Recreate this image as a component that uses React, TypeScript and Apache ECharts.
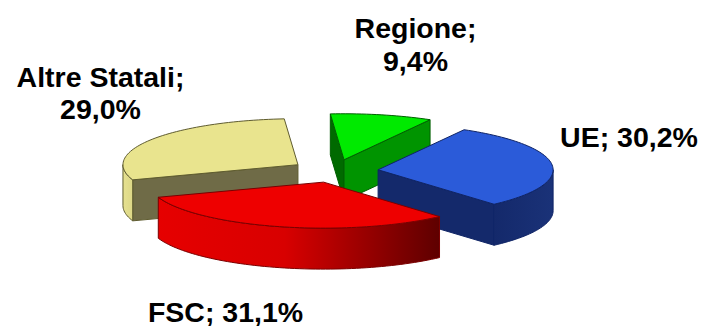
import React, { useEffect, useRef } from "react";
import * as echarts from "echarts";

const categories = ["Regione", "UE", "FSC", "Altre Statali"];
const shares = [9.4, 30.2, 31.1, 29.0];
const labelLines = [["Regione;", "9,4%"], ["UE; 30,2%"], ["FSC; 31,1%"], ["Altre Statali;", "29,0%"]];
const paintOrder = [3, 0, 1, 2];

const labelAnchors = [[415.5, 44.5], [629, 137], [225.5, 311.5], [100.5, 93]];
const topColors = ["#00ea00", "#2b5bd9", "#ee0000", "#e9e48e"];
const edgeColors = ["#005f00", "#0f2466", "#7a0000", "#5f5c30"];
const startWallColors = ["#006a00", "#14296b", "#7a0000", "#6f6b47"];
const endWallColors = ["#009400", "#14296b", "#7a0000", "#6f6b47"];
const outerWallStops = [
  [[0, "#008800"], [1, "#006600"]],
  [[0, "#14296b"], [1, "#1a3278"]],
  [[0, "#e60000"], [0.45, "#d80000"], [1, "#5e0000"]],
  [[0, "#e6e190"], [1, "#dcd787"]],
];

const CX = 334.6;
const CY = 171;
const RX = 175;
const RY = 46;
const DEPTH = 41;
const EXPLODE = 0.25;
const START_DEG = -94.5;

const total = shares.reduce((a, b) => a + b, 0);
const toAngle = (share: number) => (share / total) * Math.PI * 2;
const angleBefore = (index: number) =>
  (START_DEG * Math.PI) / 180 + shares.slice(0, index).reduce((a, b) => a + toAngle(b), 0);

function arcPoints(c: number[], a0: number, a1: number, dy = 0) {
  const n = Math.max(2, Math.ceil(Math.abs(a1 - a0) / 0.03));
  const pts: number[][] = [];
  for (let i = 0; i <= n; i++) {
    const t = a0 + ((a1 - a0) * i) / n;
    pts.push([c[0] + RX * Math.cos(t), c[1] + RY * Math.sin(t) + dy]);
  }
  return pts;
}

function renderSlice(params: any, api: any) {
  const idx = paintOrder[params.dataIndex];
  const a0 = angleBefore(idx);
  const a1 = a0 + toAngle(api.value(0));
  const mid = (a0 + a1) / 2;
  const c = [CX + RX * EXPLODE * Math.cos(mid), CY + RY * EXPLODE * Math.sin(mid)];
  const children: any[] = [];
  const edge = { stroke: edgeColors[idx], lineWidth: 1 };

  const wall = (angle: number, fill: string) => {
    const p = [c[0] + RX * Math.cos(angle), c[1] + RY * Math.sin(angle)];
    children.push({
      type: "polygon",
      shape: { points: [c, p, [p[0], p[1] + DEPTH], [c[0], c[1] + DEPTH]] },
      style: { fill, ...edge },
    });
  };
  if (Math.cos(a0) < 0) wall(a0, startWallColors[idx]);
  if (Math.cos(a1) > 0) wall(a1, endWallColors[idx]);

  // outer rim: only the part on the front half of the ellipse is visible
  for (const k of [0, 2]) {
    const lo = Math.max(a0, k * Math.PI);
    const hi = Math.min(a1, (k + 1) * Math.PI);
    if (hi > lo) {
      const topArc = arcPoints(c, lo, hi);
      const bottomArc = arcPoints(c, hi, lo, DEPTH);
      children.push({
        type: "polygon",
        shape: { points: [...topArc, ...bottomArc] },
        style: {
          fill: new echarts.graphic.LinearGradient(
            0, 0, 1, 0,
            outerWallStops[idx].map(([offset, color]) => ({ offset: offset as number, color: color as string }))
          ),
          ...edge,
        },
      });
    }
  }

  children.push({
    type: "polygon",
    shape: { points: [c, ...arcPoints(c, a0, a1)] },
    style: { fill: topColors[idx], ...edge },
  });
  return { type: "group", children };
}

export default function App() {
  const ref = useRef<HTMLDivElement>(null);
  useEffect(() => {
    const chart = echarts.init(ref.current!, undefined, { renderer: "svg" });
    chart.setOption({
      animation: false,
      backgroundColor: "#ffffff",
      series: [
        {
          type: "custom",
          coordinateSystem: "none",
          silent: true,
          clip: false,
          renderItem: renderSlice,
          data: paintOrder.map((i) => ({ name: categories[i], value: [shares[i]] })),
        },
      ],
      graphic: labelLines.map((lines, i) => ({
        type: "text",
        silent: true,
        x: labelAnchors[i][0],
        y: labelAnchors[i][1],
        style: {
          text: lines.join("\n"),
          textAlign: "center",
          textVerticalAlign: "middle",
          font: 'bold 28.5px "Liberation Sans", Arial, sans-serif',
          lineHeight: lines.length > 1 ? 32.5 : 22,
          fill: "#000000",
        },
      })),
    });
    return () => chart.dispose();
  }, []);
  return <div ref={ref} style={{ position: "absolute", left: 0, top: 0, width: 702, height: 326 }} />;
}
